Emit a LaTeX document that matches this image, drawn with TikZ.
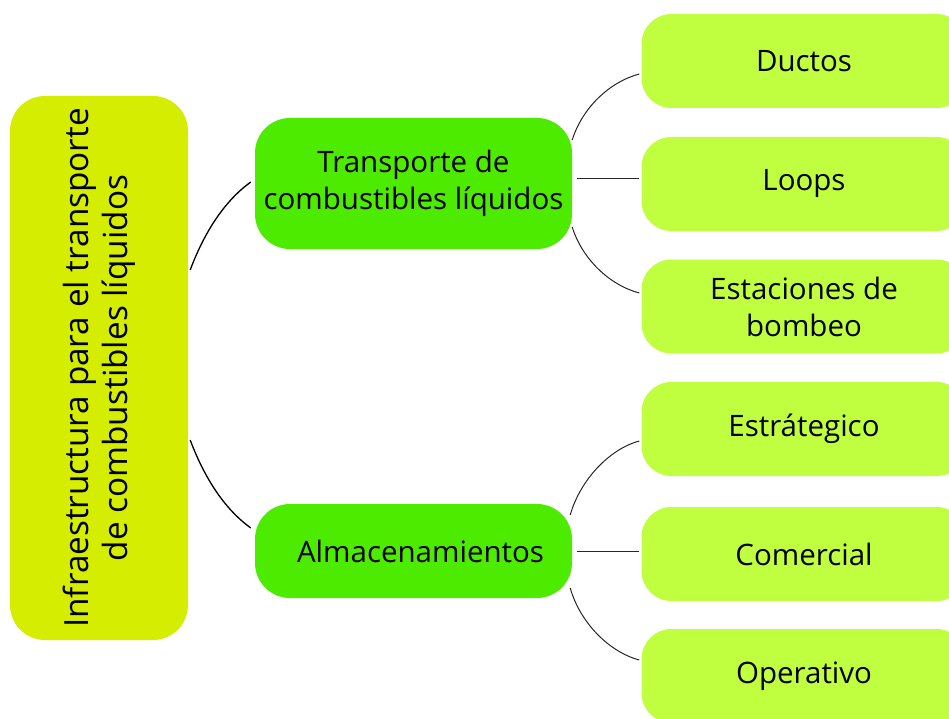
\documentclass[tikz,border=0pt]{standalone}
\usepackage{fontspec}
\setmainfont[Ligatures=NoCommon]{Open Sans}
\usetikzlibrary{calc}
\definecolor{rootc}{RGB}{212,237,0}
\definecolor{midc}{RGB}{76,235,0}
\definecolor{leafc}{RGB}{191,255,64}
\tikzset{
  base/.style={inner sep=0pt, align=center, font=\fontsize{29.5}{37}\selectfont, text=black},
  rootbox/.style={base, fill=rootc, rounded corners=35pt, font=\fontsize{33.3}{39}\selectfont},
  midbox/.style={base, fill=midc, rounded corners=35pt, minimum width=317pt},
  leafbox/.style={base, fill=leafc, rounded corners=30pt, minimum width=325pt, minimum height=94pt},
  link/.style={draw=black!85, line width=1pt},
  rootlink/.style={draw=black, line width=1.3pt}
}
\begin{document}
\begin{tikzpicture}[x=1pt,y=-1pt]
\useasboundingbox (0,0) rectangle (949,719);
\clip (0,0) rectangle (949,719);
\node[rootbox, rotate=90, minimum width=544pt, minimum height=178pt] (root) at (99,368) {Infraestructura para el transporte\\de combustibles líquidos};
\node[midbox, minimum height=131pt] (trans) at (413.5,183.5) {Transporte de\\combustibles líquidos};
\node[midbox, minimum height=94pt] (alm) at (413.5,551) {\hspace*{14pt}Almacenamientos};
\node[leafbox] (l1) at (804,61) {Ductos};
\node[leafbox] (l2) at (804,184) {Loops};
\node[leafbox] (l3) at (804,306.5) {Estaciones de\\bombeo};
\node[leafbox] (l4) at (804,429) {Estrátegico};
\node[leafbox] (l5) at (804,554) {Comercial};
\node[leafbox] (l6) at (804,676) {Operativo};
% root to mid
\draw[rootlink] ($(root.south)+(2,-98)$) .. controls +(15,-40) and +(-25,18) .. ($(trans.west)+(-4,-1.5)$);
\draw[rootlink] ($(root.south)+(2,72)$) .. controls +(15,40) and +(-25,-18) .. ($(alm.west)+(-4,-23)$);
% transporte to leaves
\draw[link] ($(trans.east)+(0,-43.5)$) .. controls +(10,-32) and +(-30,8) .. ($(l1.west)+(-2,13)$);
\draw[link] ($(trans.east)+(5,-4.5)$) -- ($(l2.west)+(-2,-5)$);
\draw[link] ($(trans.east)+(0,43.5)$) .. controls +(10,32) and +(-30,-8) .. ($(l3.west)+(-2,-13.5)$);
% almacenamientos to leaves
\draw[link] ($(alm.east)+(-2,-36)$) .. controls +(10,-35) and +(-30,8) .. ($(l4.west)+(-2,12)$);
\draw[link] ($(alm.east)+(5,0)$) -- ($(l5.west)+(-2,-3)$);
\draw[link] ($(alm.east)+(-2,37)$) .. controls +(10,35) and +(-30,-8) .. ($(l6.west)+(-2,-16)$);
\end{tikzpicture}
\end{document}
